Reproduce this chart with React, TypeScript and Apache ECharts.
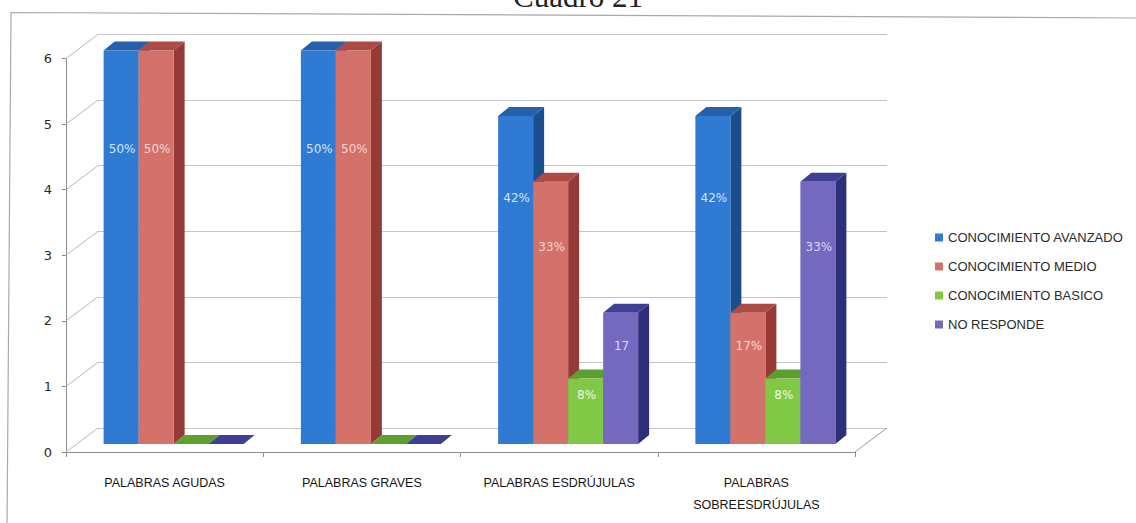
import React, { useEffect, useRef } from "react";
import * as echarts from "echarts";

// Categories on the x axis
const categories = [
  "PALABRAS AGUDAS",
  "PALABRAS GRAVES",
  "PALABRAS ESDRÚJULAS",
  "PALABRAS\nSOBREESDRÚJULAS",
];

// Series names (legend)
const seriesNames = [
  "CONOCIMIENTO AVANZADO",
  "CONOCIMIENTO MEDIO",
  "CONOCIMIENTO BASICO",
  "NO RESPONDE",
];

// Counts per category
const avanzado = [6, 6, 5, 5];
const medio = [6, 6, 4, 2];
const basico = [0, 0, 1, 1];
const noResponde = [0, 0, 2, 4];

// Percent labels printed on the bars
const avanzadoLabels = ["50%", "50%", "42%", "42%"];
const medioLabels = ["50%", "50%", "33%", "17%"];
const basicoLabels = ["", "", "8%", "8%"];
const noRespondeLabels = ["", "", "17", "33%"];

// Value axis ticks
const yTicks = [0, 1, 2, 3, 4, 5, 6];

const seriesValues = [avanzado, medio, basico, noResponde];
const seriesLabels = [avanzadoLabels, medioLabels, basicoLabels, noRespondeLabels];

// face colours: front, top, side, label
const palette = [
  { front: "#2f7ad3", top: "#2460ab", side: "#1b4e8e", label: "#d2e5fa" },
  { front: "#d4716a", top: "#ad4a46", side: "#963a38", label: "#f8d6d2" },
  { front: "#80c846", top: "#5e9f30", side: "#4c8726", label: "#eef8e2" },
  { front: "#7468bf", top: "#3f3f94", side: "#2d3078", label: "#dcd8f5" },
];

// 3D projection offsets (pixels)
const WALL_DX = 32; // front plane -> back wall
const WALL_DY = -24;
const BAR_OX = 9; // front plane -> bar front faces
const BAR_OY = -8;
const DEPTH_DX = 11; // bar depth
const DEPTH_DY = -9;
const BAR_W = 35;

const GRID_LEFT = 66;
const GRID_TOP = 58.5;
const GRID_W = 789;
const GRID_H = 393.5;

function barSeries(s: number) {
  const col = palette[s];
  return {
    type: "custom",
    name: seriesNames[s],
    xAxisIndex: 0,
    yAxisIndex: 0,
    itemStyle: { color: col.front },
    data: seriesValues[s].map((v, i) => [i, v]),
    renderItem: (params: any, api: any) => {
      const cat = api.value(0);
      const v = api.value(1);
      const base = api.coord([cat, 0]);
      const topP = api.coord([cat, v]);
      const cx = base[0] + BAR_OX;
      const x0 = cx - 2 * BAR_W + s * BAR_W;
      const x1 = x0 + BAR_W;
      const yb = base[1] + BAR_OY;
      const yt = topP[1] + BAR_OY;
      const label = seriesLabels[s][params.dataIndex];
      const children: any[] = [
        {
          type: "polygon",
          shape: {
            points: [
              [x1, yb],
              [x1 + DEPTH_DX, yb + DEPTH_DY],
              [x1 + DEPTH_DX, yt + DEPTH_DY],
              [x1, yt],
            ],
          },
          style: { fill: col.side },
        },
        {
          type: "polygon",
          shape: {
            points: [
              [x0, yt],
              [x1, yt],
              [x1 + DEPTH_DX, yt + DEPTH_DY],
              [x0 + DEPTH_DX, yt + DEPTH_DY],
            ],
          },
          style: { fill: col.top },
        },
        {
          type: "rect",
          shape: { x: x0, y: yt, width: BAR_W, height: yb - yt },
          style: { fill: col.front },
        },
      ];
      if (label) {
        children.push({
          type: "text",
          x: x0 + BAR_W / 2 + 1,
          y: yb - 0.75 * (yb - yt),
          style: {
            text: label,
            fill: col.label,
            font: "12px 'DejaVu Sans'",
            align: "center",
            verticalAlign: "middle",
          },
        });
      }
      return { type: "group", children };
    },
  };
}

// Left side wall lines and right floor edge
const frameSeries = {
  type: "custom",
  xAxisIndex: 0,
  yAxisIndex: 0,
  silent: true,
  z: 1,
  data: yTicks.map((v) => [0, v]),
  renderItem: (params: any, api: any) => {
    const v = api.value(1);
    const p = api.coord([0, v]);
    const cs = params.coordSys;
    const xl = cs.x;
    const children: any[] = [
      {
        type: "line",
        shape: { x1: xl, y1: p[1], x2: xl + WALL_DX, y2: p[1] + WALL_DY },
        style: { stroke: "#b8b8b8", lineWidth: 1 },
      },
    ];
    if (v === 0) {
      const xr = cs.x + cs.width;
      children.push({
        type: "line",
        shape: { x1: xr, y1: p[1], x2: xr + WALL_DX, y2: p[1] + WALL_DY },
        style: { stroke: "#9a9a9a", lineWidth: 1 },
      });
    }
    return { type: "group", children };
  },
};

export default function App() {
  const ref = useRef<HTMLDivElement>(null);

  useEffect(() => {
    if (!ref.current) return;
    const chart = echarts.init(ref.current, null, { renderer: "svg" });
    chart.setOption({
      animation: false,
      backgroundColor: "#ffffff",
      grid: [
        {
          left: GRID_LEFT,
          top: GRID_TOP,
          width: GRID_W,
          height: GRID_H,
          outerBoundsMode: "none",
        },
        {
          left: GRID_LEFT + WALL_DX,
          top: GRID_TOP + WALL_DY,
          width: GRID_W,
          height: GRID_H,
          outerBoundsMode: "none",
        },
      ],
      xAxis: [
        {
          type: "category",
          gridIndex: 0,
          data: categories,
          axisLine: { show: true, lineStyle: { color: "#8c8c8c", width: 1 } },
          axisTick: { show: true, length: 5, interval: 0, lineStyle: { color: "#8c8c8c" } },
          axisLabel: {
            interval: 0,
            margin: 20,
            fontSize: 12.5,
            lineHeight: 22,
            color: "#151515",
            fontFamily: "'Liberation Sans', Arial, sans-serif",
          },
          splitLine: { show: false },
        },
        {
          type: "category",
          gridIndex: 1,
          data: categories,
          show: false,
        },
      ],
      yAxis: [
        {
          type: "value",
          gridIndex: 0,
          min: 0,
          max: 6,
          interval: 1,
          axisLine: { show: true, lineStyle: { color: "#8c8c8c", width: 1 } },
          axisTick: { show: true, length: 4, lineStyle: { color: "#8c8c8c" } },
          axisLabel: {
            margin: 14,
            fontSize: 13,
            color: "#2a2a2a",
            fontFamily: "'DejaVu Sans', sans-serif",
          },
          splitLine: { show: false },
        },
        {
          type: "value",
          gridIndex: 1,
          min: 0,
          max: 6,
          interval: 1,
          axisLine: { show: false },
          axisTick: { show: false },
          axisLabel: { show: false },
          splitLine: { show: true, lineStyle: { color: "#c4c4c4", width: 1 } },
        },
      ],
      legend: {
        data: seriesNames,
        orient: "vertical",
        left: 930,
        top: 226,
        icon: "rect",
        itemWidth: 8,
        itemHeight: 8,
        itemGap: 16,
        textStyle: {
          fontSize: 13,
          lineHeight: 13,
          color: "#2a2a2a",
          fontFamily: "'Liberation Sans', Arial, sans-serif",
        },
      },
      graphic: [
        {
          type: "polyline",
          shape: {
            points: [
              [7, 530],
              [11, 12.5],
              [1140, 18],
            ],
          },
          style: { stroke: "#a9a9a9", lineWidth: 1.2, fill: "none" },
          silent: true,
        },
        {
          type: "text",
          x: 578,
          y: -19,
          style: {
            text: "Cuadro 21",
            font: "31px 'Liberation Serif', 'Times New Roman', serif",
            fill: "#222",
            align: "center",
            verticalAlign: "top",
          },
          silent: true,
        },
      ],
      series: [frameSeries, barSeries(0), barSeries(1), barSeries(2), barSeries(3)],
    });
    return () => chart.dispose();
  }, []);

  return (
    <div
      ref={ref}
      style={{ position: "fixed", left: 0, top: 0, width: 1136, height: 523 }}
    />
  );
}
